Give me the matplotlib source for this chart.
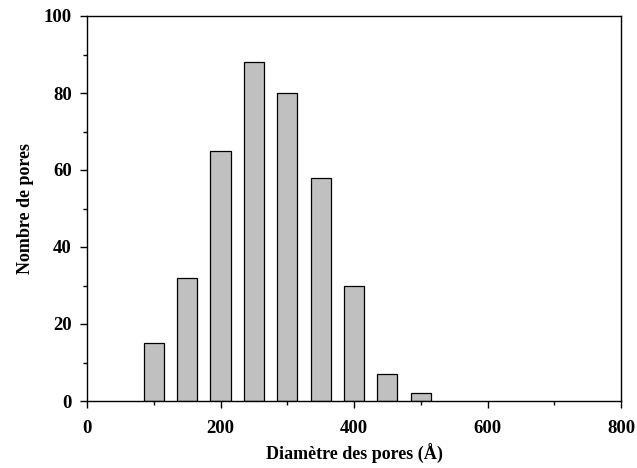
import matplotlib
matplotlib.use("Agg")
import matplotlib.pyplot as plt
from matplotlib.ticker import MultipleLocator

diameters = [100, 150, 200, 250, 300, 350, 400, 450, 500]
counts = [15, 32, 65, 88, 80, 58, 30, 7, 2]

plt.rcParams['font.family'] = ['Liberation Serif', 'DejaVu Serif']
plt.rcParams['font.weight'] = 'bold'

fig = plt.figure(figsize=(6.37, 4.68), dpi=100)
ax = fig.add_axes([87/637, 1-401/468, (621-87)/637, (401-16)/468])

ax.bar(diameters, counts, width=30, color='#c0c0c0', edgecolor='black', linewidth=0.9)

ax.set_xlim(0, 800)
ax.set_ylim(0, 100)
ax.xaxis.set_major_locator(MultipleLocator(200))
ax.xaxis.set_minor_locator(MultipleLocator(100))
ax.yaxis.set_major_locator(MultipleLocator(20))
ax.yaxis.set_minor_locator(MultipleLocator(10))
ax.tick_params(which='major', direction='out', length=5, width=1, labelsize=13.5)
ax.tick_params(axis='x', which='major', pad=9)
ax.tick_params(axis='y', which='major', pad=6)
ax.tick_params(which='minor', direction='out', length=3, width=1)
for lab in ax.get_xticklabels() + ax.get_yticklabels():
    lab.set_fontweight('bold')
for s in ax.spines.values():
    s.set_linewidth(1)

ax.set_xlabel('Diamètre des pores (Å)', fontsize=13, fontweight='bold', labelpad=5)
ax.set_ylabel('Nombre de pores', fontsize=13, fontweight='bold', labelpad=7)

fig.savefig('out.png', dpi=100)
